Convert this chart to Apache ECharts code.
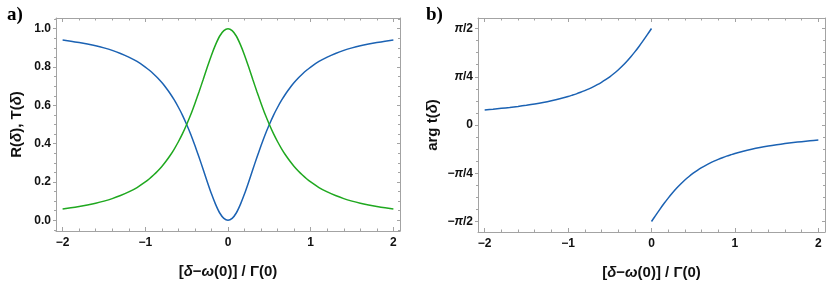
<!DOCTYPE html>
<html>
<head>
<meta charset="utf-8">
<script src="https://cdn.jsdelivr.net/npm/echarts@6/dist/echarts.min.js"></script>
<style>
html,body{margin:0;padding:0;background:#fff;}
#chart{width:830px;height:294px;}
</style>
</head>
<body>
<div id="chart"></div>
<script>
// ---------- data ----------
const xA = [-2,-1.9,-1.8,-1.7,-1.6,-1.5,-1.4,-1.3,-1.2,-1.1,
  -1,-0.95,-0.9,-0.85,-0.8,-0.75,-0.7,-0.65,-0.6,-0.55,-0.5,-0.45,-0.4,-0.35,-0.3,-0.25,-0.2,-0.15,-0.1,-0.05,
  0,0.05,0.1,0.15,0.2,0.25,0.3,0.35,0.4,0.45,0.5,0.55,0.6,0.65,0.7,0.75,0.8,0.85,0.9,0.95,1,
  1.1,1.2,1.3,1.4,1.5,1.6,1.7,1.8,1.9,2];
const transT = [0.059,0.065,0.072,0.080,0.089,0.100,0.113,0.129,0.148,0.171,
  0.200,0.217,0.236,0.257,0.281,0.308,0.338,0.372,0.410,0.452,0.500,0.552,0.610,0.671,0.735,0.800,0.862,0.917,0.962,0.990,
  1.000,0.990,0.962,0.917,0.862,0.800,0.735,0.671,0.610,0.552,0.500,0.452,0.410,0.372,0.338,0.308,0.281,0.257,0.236,0.217,0.200,
  0.171,0.148,0.129,0.113,0.100,0.089,0.080,0.072,0.065,0.059];
const reflR = [0.941,0.935,0.928,0.920,0.911,0.900,0.887,0.871,0.852,0.829,
  0.800,0.783,0.764,0.743,0.719,0.692,0.662,0.628,0.590,0.548,0.500,0.448,0.390,0.329,0.265,0.200,0.138,0.083,0.038,0.010,
  0.000,0.010,0.038,0.083,0.138,0.200,0.265,0.329,0.390,0.448,0.500,0.548,0.590,0.628,0.662,0.692,0.719,0.743,0.764,0.783,0.800,
  0.829,0.852,0.871,0.887,0.900,0.911,0.920,0.928,0.935,0.941];

const xPhaseL = [-2,-1.9,-1.8,-1.7,-1.6,-1.5,-1.4,-1.3,-1.2,-1.1,
  -1,-0.95,-0.9,-0.85,-0.8,-0.75,-0.7,-0.65,-0.6,-0.55,-0.5,-0.45,-0.4,-0.35,-0.3,-0.25,-0.2,-0.15,-0.1,-0.05,0];
const phaseL = [0.245,0.257,0.271,0.286,0.303,0.322,0.343,0.367,0.395,0.427,
  0.464,0.485,0.507,0.532,0.559,0.588,0.620,0.656,0.695,0.738,0.785,0.838,0.896,0.960,1.030,1.107,1.190,1.279,1.373,1.471,1.571];
const xPhaseR = [0,0.05,0.1,0.15,0.2,0.25,0.3,0.35,0.4,0.45,0.5,0.55,0.6,0.65,0.7,0.75,0.8,0.85,0.9,0.95,1,
  1.1,1.2,1.3,1.4,1.5,1.6,1.7,1.8,1.9,2];
const phaseR = [-1.571,-1.471,-1.373,-1.279,-1.190,-1.107,-1.030,-0.960,-0.896,-0.838,-0.785,-0.738,-0.695,-0.656,-0.620,-0.588,-0.559,-0.532,-0.507,-0.485,-0.464,
  -0.427,-0.395,-0.367,-0.343,-0.322,-0.303,-0.286,-0.271,-0.257,-0.245];

// ---------- ticks ----------
const xMajor = [-2,-1,0,1,2];
const xMajorLabels = ['\u22122','\u22121','0','1','2'];
const xMinor = [-1.8,-1.6,-1.4,-1.2,-0.8,-0.6,-0.4,-0.2,0.2,0.4,0.6,0.8,1.2,1.4,1.6,1.8];
const yMajorA = [0,0.2,0.4,0.6,0.8,1.0];
const yMajorALabels = ['0.0','0.2','0.4','0.6','0.8','1.0'];
const yMinorA = [-0.05,0.05,0.1,0.15,0.25,0.3,0.35,0.45,0.5,0.55,0.65,0.7,0.75,0.85,0.9,0.95,1.05];
const yMajorBLabels = ['\u2212{i|\u03c0}/2','\u2212{i|\u03c0}/4','0','{i|\u03c0}/4','{i|\u03c0}/2'];
const yMajorB = [-Math.PI/2,-Math.PI/4,0,Math.PI/4,Math.PI/2];
const yMinorB = [];
for (let k=-8;k<=8;k++){ if (k%4!==0) yMinorB.push(k*Math.PI/16); }

const BLUE = '#1b62b3';
const GREEN = '#1fa81f';
const FRAME = '#a3a3a3';
const FONT = 'Liberation Sans, Arial, sans-serif';

const grids = [
  {left:56, top:18, width:344, height:213},
  {left:478, top:18, width:347, height:214}
];

function xAxes(g){
  const base = {type:'value', gridIndex:g, min:-2.08, max:2.08, splitLine:{show:false}};
  const line = {show:true, onZero:false, lineStyle:{color:FRAME, width:1}};
  return [
    Object.assign({}, base, {position:'bottom', axisLine:line,
      axisTick:{show:true, inside:true, length:4, customValues:xMajor, lineStyle:{color:FRAME}},
      axisLabel:{show:true, customValues:xMajor, margin:6, color:'#111', fontFamily:FONT, fontWeight:'bold', fontSize:12,
        formatter:(v)=>xMajorLabels[xMajor.indexOf(Math.round(v))]},
      name:'{b|[}{i|\u03b4}{b|\u2212}{i|\u03c9}{b|(0)] / \u0393(0)}', nameLocation:'middle', nameGap:33,
      nameTextStyle:{rich:{b:{fontFamily:FONT, fontWeight:'bold', fontSize:15, color:'#111'},
                           i:{fontFamily:FONT, fontWeight:'bold', fontStyle:'italic', fontSize:15, color:'#111'}}}}),
    Object.assign({}, base, {position:'bottom', axisLine:{show:false, onZero:false},
      axisTick:{show:true, inside:true, length:2.5, customValues:xMinor, lineStyle:{color:FRAME}},
      axisLabel:{show:false}}),
    Object.assign({}, base, {position:'top', axisLine:line,
      axisTick:{show:true, inside:true, length:4, customValues:xMajor, lineStyle:{color:FRAME}},
      axisLabel:{show:false}}),
    Object.assign({}, base, {position:'top', axisLine:{show:false, onZero:false},
      axisTick:{show:true, inside:true, length:2.5, customValues:xMinor, lineStyle:{color:FRAME}},
      axisLabel:{show:false}})
  ];
}

function yAxes(g, min, max, major, minor, fmt, name, nameGap){
  const base = {type:'value', gridIndex:g, min:min, max:max, splitLine:{show:false}};
  const line = {show:true, onZero:false, lineStyle:{color:FRAME, width:1}};
  return [
    Object.assign({}, base, {position:'left', axisLine:line,
      axisTick:{show:true, inside:false, length:3, customValues:major, lineStyle:{color:FRAME}},
      axisLabel:{show:true, customValues:major, margin:5, color:'#111', fontFamily:FONT, fontWeight:'bold', fontSize:12,
        formatter:fmt, rich:{i:{fontFamily:FONT, fontWeight:'bold', fontStyle:'italic', fontSize:12, color:'#111'}}},
      name:name, nameLocation:'middle', nameGap:nameGap, nameRotate:90,
      nameTextStyle:{rich:{b:{fontFamily:FONT, fontWeight:'bold', fontSize:15, color:'#111'},
                           i:{fontFamily:FONT, fontWeight:'bold', fontStyle:'italic', fontSize:15, color:'#111'}}}}),
    Object.assign({}, base, {position:'left', axisLine:{show:false, onZero:false},
      axisTick:{show:true, inside:false, length:2, customValues:minor, lineStyle:{color:FRAME}},
      axisLabel:{show:false}}),
    Object.assign({}, base, {position:'right', axisLine:line,
      axisTick:{show:true, inside:true, length:3, customValues:major, lineStyle:{color:FRAME}},
      axisLabel:{show:false}}),
    Object.assign({}, base, {position:'right', axisLine:{show:false, onZero:false},
      axisTick:{show:true, inside:true, length:2, customValues:minor, lineStyle:{color:FRAME}},
      axisLabel:{show:false}})
  ];
}

const fmtA = (v)=>{ const i = yMajorA.findIndex(t=>Math.abs(t-v)<1e-6); return i>=0 ? yMajorALabels[i] : ''; };
const fmtB = (v)=>{ const i = Math.round(v/(Math.PI/4))+2; return yMajorBLabels[i] || ''; };

const pairs = (xs, ys)=>xs.map((x,i)=>[x, ys[i]]);

const chart = echarts.init(document.getElementById('chart'), null, {renderer:'canvas'});
const option = {
  animation:false,
  backgroundColor:'#fff',
  title:[
    {text:'a)', left:2, top:1, textStyle:{fontFamily:'Liberation Serif, Times New Roman, serif', fontWeight:'bold', fontSize:19, color:'#000'}},
    {text:'b)', left:421, top:1, textStyle:{fontFamily:'Liberation Serif, Times New Roman, serif', fontWeight:'bold', fontSize:19, color:'#000'}}
  ],
  grid:grids,
  xAxis:[].concat(xAxes(0), xAxes(1)),
  yAxis:[].concat(
    yAxes(0, -0.056, 1.056, yMajorA, yMinorA, fmtA, '{b|R(}{i|\u03b4}{b|), T(}{i|\u03b4}{b|)}', 32),
    yAxes(1, -1.742, 1.742, yMajorB, yMinorB, fmtB, '{b|arg t(}{i|\u03b4}{b|)}', 38)
  ),
  series:[
    {type:'line', xAxisIndex:0, yAxisIndex:0, data:pairs(xA, reflR), showSymbol:false, smooth:0.3,
      lineStyle:{color:BLUE, width:1.5}, itemStyle:{color:BLUE}},
    {type:'line', xAxisIndex:0, yAxisIndex:0, data:pairs(xA, transT), showSymbol:false, smooth:0.3,
      lineStyle:{color:GREEN, width:1.5}, itemStyle:{color:GREEN}},
    {type:'line', xAxisIndex:4, yAxisIndex:4, data:pairs(xPhaseL, phaseL), showSymbol:false, smooth:0.3,
      lineStyle:{color:BLUE, width:1.5}, itemStyle:{color:BLUE}},
    {type:'line', xAxisIndex:4, yAxisIndex:4, data:pairs(xPhaseR, phaseR), showSymbol:false, smooth:0.3,
      lineStyle:{color:BLUE, width:1.5}, itemStyle:{color:BLUE}}
  ]
};
chart.setOption(option);
</script>
</body>
</html>
